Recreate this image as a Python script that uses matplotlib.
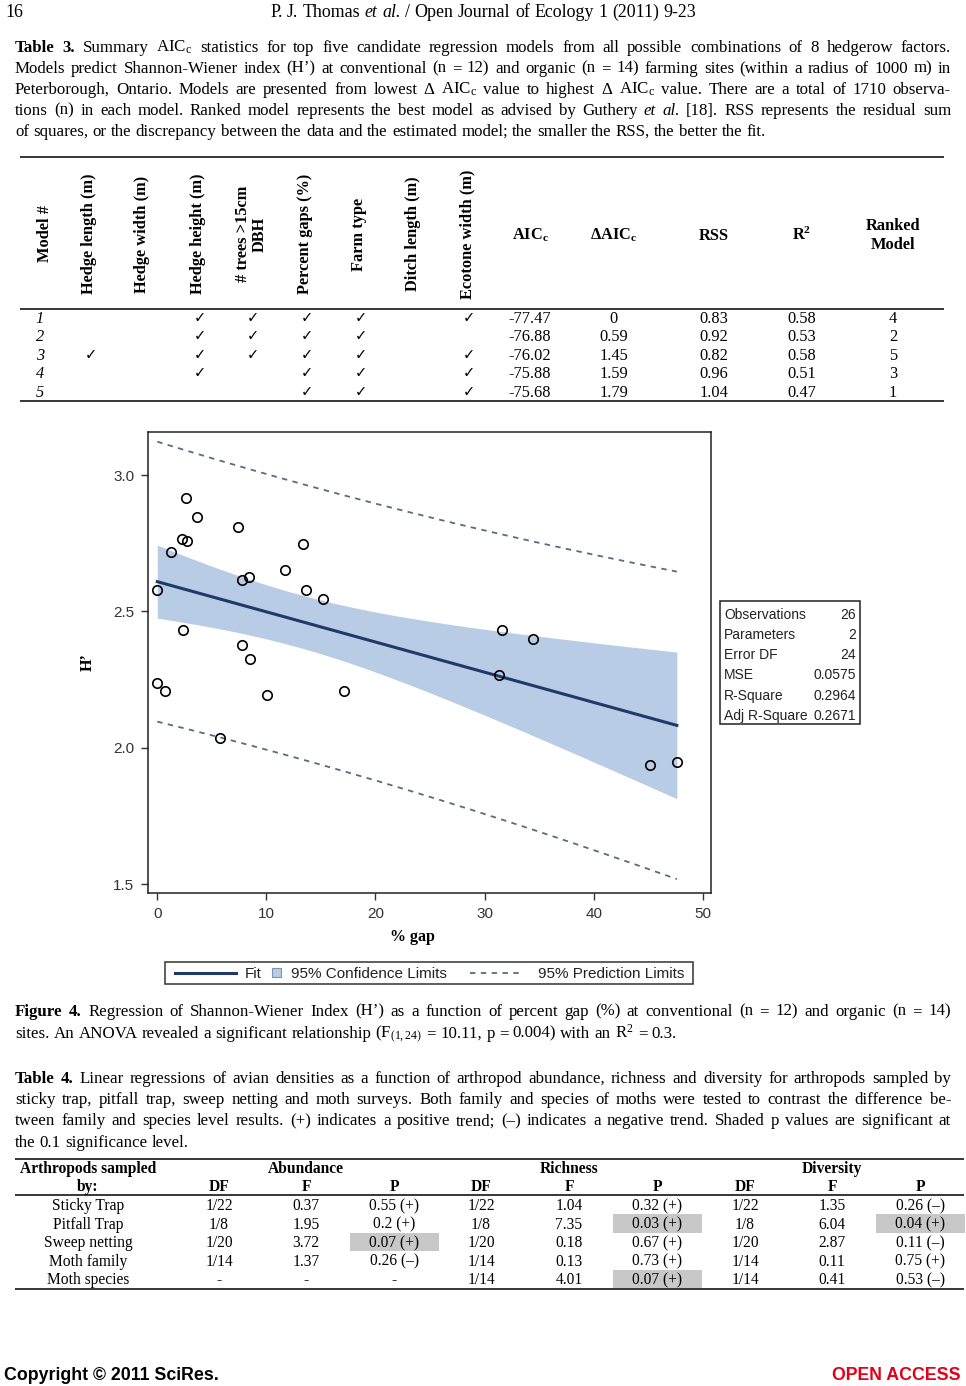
import numpy as np
import matplotlib
matplotlib.use('Agg')
import matplotlib.pyplot as plt
from matplotlib.patches import Rectangle

# ---------------- data ----------------
gap_pct = [0.0, 1.29, 2.59, 3.64, 2.31, 2.72, 7.39, 13.38, 7.73, 8.44, 11.74, 13.61, 15.21,
           2.35, 7.76, 8.54, 31.62, 34.41, 31.35, 0.0, 0.71, 10.07, 17.09, 5.75, 45.17, 47.62]
shannon_h = [2.580, 2.719, 2.915, 2.846, 2.767, 2.757, 2.809, 2.748, 2.616, 2.626, 2.650, 2.580, 2.547,
             2.430, 2.377, 2.327, 2.430, 2.397, 2.267, 2.237, 2.208, 2.194, 2.208, 2.035, 1.938, 1.946]
x_ticks = [0, 10, 20, 30, 40, 50]
y_ticks = [1.5, 2.0, 2.5, 3.0]

stat_labels = ['Observations', 'Parameters', 'Error DF', 'MSE', 'R-Square', 'Adj R-Square']
stat_values = ['26', '2', '24', '0.0575', '0.2964', '0.2671']
legend_labels = ['Fit', '95% Confidence Limits', '95% Prediction Limits']

t3_factors = ['Hedge length (m)', 'Hedge width (m)', 'Hedge height (m)', '# trees >15cm\nDBH',
              'Percent gaps (%)', 'Farm type', 'Ditch length (m)', 'Ecotone width (m)']
t3_models = ['1', '2', '3', '4', '5']
t3_checks = [[0, 0, 1, 1, 1, 1, 0, 1],
             [0, 0, 1, 1, 1, 1, 0, 0],
             [1, 0, 1, 1, 1, 1, 0, 1],
             [0, 0, 1, 0, 1, 1, 0, 1],
             [0, 0, 0, 0, 1, 1, 0, 1]]
t3_aicc = ['-77.47', '-76.88', '-76.02', '-75.88', '-75.68']
t3_daicc = ['0', '0.59', '1.45', '1.59', '1.79']
t3_rss = ['0.83', '0.92', '0.82', '0.96', '1.04']
t3_r2 = ['0.58', '0.53', '0.58', '0.51', '0.47']
t3_rank = ['4', '2', '5', '3', '1']

t4_groups = ['Sticky Trap', 'Pitfall Trap', 'Sweep netting', 'Moth family', 'Moth species']
abund_df = ['1/22', '1/8', '1/20', '1/14', '-']
abund_f = ['0.37', '1.95', '3.72', '1.37', '-']
abund_p = ['0.55 (+)', '0.2 (+)', '0.07 (+)', '0.26 (–)', '-']
rich_df = ['1/22', '1/8', '1/20', '1/14', '1/14']
rich_f = ['1.04', '7.35', '0.18', '0.13', '4.01']
rich_p = ['0.32 (+)', '0.03 (+)', '0.67 (+)', '0.73 (+)', '0.07 (+)']
div_df = ['1/22', '1/8', '1/20', '1/14', '1/14']
div_f = ['1.35', '6.04', '2.87', '0.11', '0.41']
div_p = ['0.26 (–)', '0.04 (+)', '0.11 (–)', '0.75 (+)', '0.53 (–)']

# ---------------- page setup ----------------
W, H = 966, 1386
SERIF = 'Liberation Serif'
SANS = 'Liberation Sans'
plt.rcParams['mathtext.fontset'] = 'custom'
plt.rcParams['mathtext.rm'] = 'Liberation Serif'
plt.rcParams['mathtext.it'] = 'Liberation Serif:italic'
plt.rcParams['mathtext.bf'] = 'Liberation Serif:bold'

fig = plt.figure(figsize=(W / 100, H / 100), dpi=100)
page = fig.add_axes([0, 0, 1, 1])
page.set_xlim(0, W)
page.set_ylim(H, 0)
page.axis('off')
renderer = fig.canvas.get_renderer()

BODY = 12.2    # captions
TAB3 = 11.8    # table 3
TAB4 = 11.2    # table 4


def px(size):
    return size * 100 / 72.0


def T(x, yc, s, size=TAB4, weight='normal', style='normal', family=SERIF, ha='center', **kw):
    # yc is the visual centre of a text line; place by baseline
    return page.text(x, yc + 0.34 * px(size), s, fontsize=size, fontweight=weight, fontstyle=style,
                     family=family, ha=ha, va='baseline', **kw)


def parse(line):
    out = []
    for w in line.split(' '):
        if w.startswith('**') and w.endswith('**') and len(w) > 4:
            out.append((w[2:-2], 'bold', 'normal'))
        elif w.startswith('*') and w.endswith('*') and len(w) > 2:
            out.append((w[1:-1], 'normal', 'italic'))
        else:
            out.append((w, 'normal', 'normal'))
    return out


def line_text(line, yc, size=BODY, x0=15, x1=951, mode='justify', family=SERIF):
    toks = parse(line)
    objs = [page.text(0, yc + 0.34 * px(size), t, fontsize=size, family=family, fontweight=w,
                      fontstyle=s, ha='left', va='baseline') for t, w, s in toks]
    widths = [o.get_window_extent(renderer).width for o in objs]
    sp = 0.25 * px(size)
    if mode == 'justify' and len(objs) > 1:
        gap = (x1 - x0 - sum(widths)) / (len(objs) - 1)
        x = x0
    elif mode == 'center':
        gap = sp
        total = sum(widths) + sp * (len(objs) - 1)
        x = (x0 + x1) / 2 - total / 2
    else:
        gap = sp
        x = x0
    for o, wd in zip(objs, widths):
        o.set_x(x)
        x += wd + gap


def hrule(y, x0, x1, lw=1.1):
    page.plot([x0, x1], [y, y], color='black', lw=lw, solid_capstyle='butt')


# ---------------- header ----------------
T(5, 11, '16', size=12.9, ha='left')
line_text('P. J. Thomas *et* *al.* / Open Journal of Ecology 1 (2011) 9-23', 11, size=12.9,
          x0=0, x1=966, mode='center')

# ---------------- Table 3 caption ----------------
cap3 = [
    '**Table** **3.** Summary AIC$_{\\mathrm{c}}$ statistics for top five candidate regression models from all possible combinations of 8 hedgerow factors.',
    'Models predict Shannon-Wiener index (H’) at conventional (n = 12) and organic (n = 14) farming sites (within a radius of 1000 m) in',
    'Peterborough, Ontario. Models are presented from lowest Δ AIC$_{\\mathrm{c}}$ value to highest Δ AIC$_{\\mathrm{c}}$ value. There are a total of 1710 observa-',
    'tions (n) in each model. Ranked model represents the best model as advised by Guthery *et* *al.* [18]. RSS represents the residual sum',
    'of squares, or the discrepancy between the data and the estimated model; the smaller the RSS, the better the fit.',
]
for i, ln in enumerate(cap3):
    line_text(ln, 46 + 21 * i, mode='justify' if i < len(cap3) - 1 else 'left')

# ---------------- Table 3 ----------------
hrule(157, 20, 944)
hrule(309, 20, 944)
hrule(401, 20, 944)
hdr_y = 234
fac_x = [89, 142, 198, 251, 305, 359, 413, 467]
page.text(45, hdr_y, 'Model #', rotation=90, ha='center', va='center', fontsize=TAB3,
          fontweight='bold', family=SERIF)
for fx, lab in zip(fac_x, t3_factors):
    page.text(fx, hdr_y, lab, rotation=90, ha='center', va='center', fontsize=TAB3,
              fontweight='bold', family=SERIF, multialignment='center', linespacing=1.05)
col_x = [530, 614, 714, 802, 893]
col_hdr = ['AIC$_{\\mathbf{c}}$', 'ΔAIC$_{\\mathbf{c}}$', 'RSS', 'R$^{\\mathbf{2}}$']
for cx, lab in zip(col_x[:4], col_hdr):
    T(cx, hdr_y, lab, size=TAB3, weight='bold')
T(893, 224, 'Ranked', size=TAB3, weight='bold')
T(893, 243, 'Model', size=TAB3, weight='bold')
row_y3 = [317, 335.5, 354, 372.5, 391]
for i, ry in enumerate(row_y3):
    T(40, ry, t3_models[i], size=TAB3, style='italic')
    for j, fx in enumerate(fac_x):
        if t3_checks[i][j]:
            T(fx + 2, ry, '✓', size=10.5, family='DejaVu Sans')
    for cx, vals in zip(col_x, [t3_aicc, t3_daicc, t3_rss, t3_r2, t3_rank]):
        T(cx, ry, vals[i], size=TAB3)

# ---------------- Figure (regression plot) ----------------
ax_l, ax_r, ax_t, ax_b = 148, 711, 432, 893
ax = fig.add_axes([ax_l / W, 1 - ax_b / H, (ax_r - ax_l) / W, (ax_b - ax_t) / H])
x = np.array(gap_pct)
y = np.array(shannon_h)
n = len(x)
b1, b0 = np.polyfit(x, y, 1)
xs = np.linspace(x.min(), x.max(), 200)
fit = b0 + b1 * xs
mse = np.sum((y - (b0 + b1 * x)) ** 2) / (n - 2)
sxx = np.sum((x - x.mean()) ** 2)
tcrit = 2.0639
se_m = np.sqrt(mse * (1.0 / n + (xs - x.mean()) ** 2 / sxx))
se_p = np.sqrt(mse * (1 + 1.0 / n + (xs - x.mean()) ** 2 / sxx))

CI_COL = '#b8cce6'
FIT_COL = '#1f3a69'
PL_COL = '#5c6a80'
ax.fill_between(xs, fit - tcrit * se_m, fit + tcrit * se_m, color=CI_COL, lw=0, zorder=1)
ax.plot(xs, fit, color=FIT_COL, lw=2.2, zorder=3)
ax.plot(xs, fit + tcrit * se_p, color=PL_COL, lw=1.3, dashes=(3, 3), zorder=2)
ax.plot(xs, fit - tcrit * se_p, color=PL_COL, lw=1.3, dashes=(3, 3), zorder=2)
ax.plot(x, y, 'o', ms=6.8, mfc='none', mec='black', mew=1.2, zorder=4)
ax.set_xlim(-0.85, 50.75)
ax.set_ylim(1.467, 3.158)
ax.set_xticks(x_ticks)
ax.set_xticklabels([str(v) for v in x_ticks])
ax.set_yticks(y_ticks)
ax.set_yticklabels(['%.1f' % v for v in y_ticks])
for sp in ax.spines.values():
    sp.set_linewidth(1.1)
    sp.set_color('#222222')
ax.tick_params(direction='out', length=5, width=1.0, color='#333333', labelcolor='#333333',
               labelsize=11, pad=5)
for lab in ax.get_xticklabels() + ax.get_yticklabels():
    lab.set_family(SANS)

page.text(88, 662, 'H’', rotation=90, ha='center', va='center', fontsize=11.5,
          fontweight='bold', family=SERIF)
T(412, 936, '% gap', size=11.5, weight='bold')

# statistics box
page.add_patch(Rectangle((720, 601), 140, 123, fill=False, ec='#222222', lw=1.1))
for i, (lab, val) in enumerate(zip(stat_labels, stat_values)):
    yy = 614 + 20.2 * i
    T(724, yy, lab, size=10, family=SANS, ha='left', color='#222222')
    T(856, yy, val, size=10, family=SANS, ha='right', color='#222222')

# legend box
page.add_patch(Rectangle((165, 962), 528, 22, fill=False, ec='#333333', lw=1.1))
page.plot([175, 236], [973, 973], color=FIT_COL, lw=2.2)
T(245, 973, legend_labels[0], size=11, family=SANS, ha='left', color='#222222')
page.add_patch(Rectangle((272, 968), 9, 9, fc=CI_COL, ec='#7f93ad', lw=0.8))
T(291, 973, legend_labels[1], size=11, family=SANS, ha='left', color='#222222')
page.plot([470, 523], [973, 973], color=PL_COL, lw=1.3, dashes=(3, 3))
T(538, 973, legend_labels[2], size=11, family=SANS, ha='left', color='#222222')

# ---------------- Figure 4 caption ----------------
cap4 = [
    '**Figure** **4.** Regression of Shannon-Wiener Index (H’) as a function of percent gap (%) at conventional (n = 12) and organic (n = 14)',
    'sites. An ANOVA revealed a significant relationship (F$_{(1,24)}$ = 10.11, p = 0.004) with an R$^{2}$ = 0.3.',
]
line_text(cap4[0], 1010, mode='justify')
line_text(cap4[1], 1032, mode='left')

# ---------------- Table 4 caption ----------------
cap_t4 = [
    '**Table** **4.** Linear regressions of avian densities as a function of arthropod abundance, richness and diversity for arthropods sampled by',
    'sticky trap, pitfall trap, sweep netting and moth surveys. Both family and species of moths were tested to contrast the difference be-',
    'tween family and species level results. (+) indicates a positive trend; (–) indicates a negative trend. Shaded p values are significant at',
    'the 0.1 significance level.',
]
for i, ln in enumerate(cap_t4):
    line_text(ln, 1077 + 21.3 * i, mode='justify' if i < len(cap_t4) - 1 else 'left')

# ---------------- Table 4 ----------------
hrule(1159, 15, 964)
hrule(1195, 15, 964)
hrule(1289, 15, 964)
grp_x = 88
df_x = [219, 481, 745]
f_x = [306, 569, 832]
p_x = [394, 657, 920]
T(grp_x, 1168, 'Arthropods sampled', weight='bold')
T(grp_x, 1186, 'by:', weight='bold')
for name, cx in zip(['Abundance', 'Richness', 'Diversity'], f_x):
    T(cx, 1168, name, weight='bold')
for k in range(3):
    T(df_x[k], 1186, 'DF', weight='bold')
    T(f_x[k], 1186, 'F', weight='bold')
    T(p_x[k], 1186, 'P', weight='bold')
row_y4 = [1205, 1223.5, 1242, 1260.5, 1279]
groups = [(abund_df, abund_f, abund_p), (rich_df, rich_f, rich_p), (div_df, div_f, div_p)]
for i, ry in enumerate(row_y4):
    T(grp_x, ry, t4_groups[i])
    for k, (dfs, fs, ps) in enumerate(groups):
        pv = ps[i]
        if pv != '-' and float(pv.split(' ')[0]) <= 0.1:
            page.add_patch(Rectangle((p_x[k] - 44.5, ry - 9.3), 89, 18.6, fc='#c8c8c8', ec='none', zorder=0))
        T(df_x[k], ry, dfs[i])
        T(f_x[k], ry, fs[i])
        T(p_x[k], ry, pv)

# ---------------- footer ----------------
T(4, 1374, 'Copyright © 2011 SciRes.', size=12.8, weight='bold', family=SANS, ha='left')
T(961, 1374, 'OPEN ACCESS', size=12.8, weight='bold', family=SANS, ha='right', color='#e2001a')

fig.savefig('out.png', dpi=100)
